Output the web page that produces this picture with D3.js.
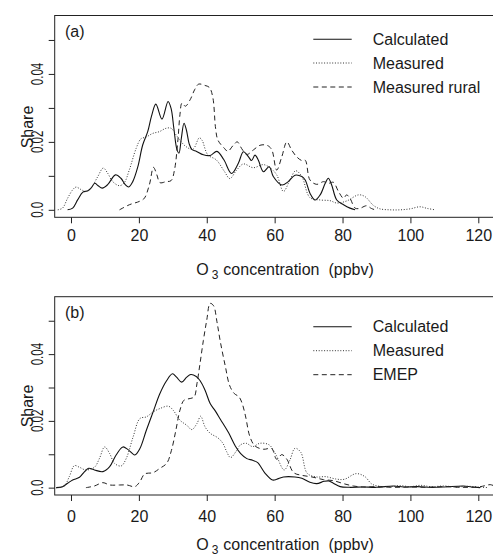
<!DOCTYPE html>
<html><head><meta charset="utf-8">
<script src="https://cdn.jsdelivr.net/npm/d3@7"></script>
<style>
body{margin:0;background:#fff}
svg{display:block}
text{font-family:"Liberation Sans",Arial,Helvetica,sans-serif;fill:#1a1a1a}
</style>
</head><body>
<svg id="chart" width="493" height="556"></svg>
<script>
// ---------- data ----------
const xTicks = [0, 20, 40, 60, 80, 100, 120];
const yTicks = [0, 0.01, 0.02, 0.03, 0.04, 0.05];
const yTickLabels = ["0.0", "", "0.02", "", "0.04", ""];
const xTitleMain = "O";
const xTitleSub = "3";
const xTitleRest = "concentration";
const xTitleUnit = "(ppbv)";
const yTitle = "Share";
const panelLabels = ["(a)", "(b)"];
const legendA = ["Calculated", "Measured", "Measured rural"];
const legendB = ["Calculated", "Measured", "EMEP"];

// panel (a)
const calcA = [[-1,0],[0.5,0.0005],[2,0.003],[3.5,0.0052],[5,0.0056],[6,0.0065],[7,0.0078],[8,0.0071],[9.2,0.0064],[10.8,0.0074],[13.1,0.0103],[14.7,0.0093],[16,0.0074],[17,0.0067],[18.2,0.0083],[19.7,0.0127],[21.1,0.019],[22.6,0.023],[23.7,0.0275],[25,0.0311],[26.8,0.0267],[28.6,0.0319],[29.5,0.0298],[30.3,0.024],[31.2,0.0178],[31.8,0.0167],[32.5,0.021],[33.3,0.0255],[34,0.0235],[34.8,0.0195],[35.6,0.0178],[37,0.0172],[39,0.0162],[41,0.016],[43,0.0172],[45,0.0148],[47.3,0.0107],[49.3,0.0137],[50.8,0.0171],[52.3,0.0156],[53.2,0.0145],[54.2,0.0161],[55.2,0.0146],[56.7,0.0112],[58.4,0.0127],[59.6,0.0098],[62.1,0.0073],[64,0.0083],[66,0.0102],[68,0.0098],[69,0.0088],[70.4,0.0049],[71.9,0.0029],[73.4,0.0044],[74.9,0.0078],[75.8,0.0093],[76.8,0.0073],[78.3,0.0029],[80.3,0.0015],[82.2,0.0005],[83.7,0]];
const measA = [[-3.9,0],[-2.5,0.0005],[-1,0.0034],[0.5,0.0059],[1.5,0.0067],[2.9,0.006],[4.4,0.0054],[5.9,0.0064],[7.9,0.0098],[9.5,0.0123],[10.8,0.0108],[12.3,0.0083],[14.3,0.0071],[15.7,0.008],[17.2,0.0118],[19.2,0.0181],[20.6,0.0209],[22.1,0.0214],[24.1,0.0225],[26,0.023],[28,0.024],[29.5,0.024],[31,0.022],[32.4,0.0201],[33.9,0.0186],[35.9,0.0178],[37.8,0.0212],[38.6,0.0205],[40.3,0.0162],[42.8,0.0147],[45.2,0.0113],[46.8,0.0092],[48.8,0.0117],[50.8,0.0135],[53.7,0.0124],[56.7,0.0133],[58.6,0.0124],[60.6,0.0103],[62.6,0.0054],[64.5,0.0088],[66.2,0.0115],[68,0.0098],[70.4,0.0036],[73.4,0.0029],[76.3,0.0027],[78.3,0.002],[81.2,0.0026],[84.7,0.0044],[86.6,0.0039],[89.1,0.0013],[91,0.0003],[94,0],[97,0],[100,0.0003],[102.8,0.0009],[105,0.0004],[107.3,0]];
const ruralA = [[14.3,0],[17.2,0.0015],[20.2,0.0025],[21.6,0.0034],[23.1,0.0074],[24.3,0.0125],[25.3,0.0103],[26.2,0.008],[28,0.0083],[29.5,0.0086],[30.5,0.0118],[31.5,0.0206],[32.1,0.028],[32.7,0.0314],[33.7,0.0305],[35.1,0.0324],[36.5,0.0355],[37.6,0.037],[39.5,0.0366],[40.8,0.036],[41.8,0.033],[42.6,0.024],[43.3,0.0205],[45.2,0.0181],[46.2,0.0172],[47.8,0.019],[49,0.02],[50.3,0.018],[51.8,0.0163],[53.7,0.0176],[55.7,0.019],[57.7,0.019],[59.1,0.0178],[60.6,0.0117],[62.1,0.0156],[63.6,0.02],[65,0.0176],[66.5,0.0156],[68,0.0145],[69,0.0146],[70.4,0.0088],[72.4,0.0075],[74.4,0.0083],[75.8,0.0078],[77.3,0.0081],[78.8,0.0054],[80.3,0.0034],[81.2,0.0044],[82.2,0.0034],[83.7,0.0005],[85,0.0004],[87.1,0.0012],[88.5,0.0004],[89.6,0]];

// panel (b)
const calcB = [[-4.4,0],[-2.5,0.0003],[-1,0.0013],[0.5,0.0023],[2.5,0.0031],[4,0.0048],[5.2,0.0058],[6.9,0.0053],[9.4,0.0048],[11.4,0.0063],[13.3,0.0098],[15.3,0.0122],[16.8,0.0114],[18.8,0.0098],[20.3,0.0117],[22.2,0.0172],[24.2,0.0227],[26.2,0.0282],[28.2,0.0321],[29.9,0.0341],[31.1,0.0331],[32.6,0.0316],[34.1,0.0331],[35.3,0.0339],[36.9,0.0333],[38,0.0321],[39.5,0.0292],[41,0.0252],[42.5,0.023],[44,0.0205],[46.4,0.0165],[48.4,0.0125],[50,0.0102],[51.8,0.0087],[53.5,0.0082],[55,0.0075],[57.2,0.0043],[59.4,0.0023],[60.6,0.0025],[62.6,0.0032],[66,0.0032],[68,0.0028],[70.4,0.0016],[72.4,0.0012],[74.6,0.0019],[76,0.002],[77.3,0.0013],[79.3,0.0003],[82,0.0001],[86,0.0002],[90,0.0001],[95,0.0005],[98,0.0002],[102,0.0003],[106,0.0001],[110,0.0002],[115.6,0.0005],[118,0.0002],[120.5,0]];
const measB = [[-4.4,0],[-2,0.0005],[-0.5,0.0033],[1,0.0066],[2.5,0.0061],[4.4,0.0053],[6.9,0.0061],[8.4,0.0088],[9.9,0.0122],[11.4,0.0102],[12.8,0.0073],[14.8,0.0065],[16.3,0.0088],[18.3,0.0152],[20.3,0.0207],[22.2,0.0212],[24.2,0.0227],[26.2,0.0237],[28.7,0.0244],[30.1,0.0232],[32.1,0.0202],[34.1,0.0187],[35.6,0.0174],[37.1,0.0192],[38.2,0.0214],[39.5,0.0182],[41,0.0163],[43.3,0.0149],[44.8,0.0132],[45.9,0.0107],[47,0.009],[48.6,0.0108],[49.9,0.0128],[51.6,0.0133],[53.5,0.0123],[55.7,0.0133],[58.4,0.0128],[60.4,0.0098],[62.8,0.0053],[64.5,0.0083],[66,0.0118],[67.7,0.0106],[69.6,0.0043],[72.4,0.0032],[75,0.0033],[78,0.0026],[80.5,0.0025],[84,0.0042],[86.6,0.0033],[88.6,0.0011],[91,0.0004],[94,0.0003],[97,0.0006],[100,0.0003],[103,0.0007],[106,0.0003],[110,0.0005],[113,0.0002],[117,0.0004],[120,0.0002],[123,0]];
const emepB = [[4.4,0],[6.9,0.0005],[9.4,0.0015],[11.4,0.0008],[14.3,0.0008],[16.5,0.0008],[18.8,0.0003],[20.3,0.0018],[21.7,0.0041],[24.2,0.0045],[26.2,0.0058],[28.2,0.0073],[29.6,0.0112],[30.9,0.0172],[32.1,0.0232],[33.3,0.0262],[35.1,0.0267],[36.3,0.0272],[37.1,0.0311],[38,0.0371],[39,0.0441],[40,0.0502],[41,0.0552],[42,0.0545],[43,0.0497],[44,0.0437],[45.5,0.0362],[46.7,0.0307],[48.1,0.0282],[49.5,0.0272],[50.5,0.025],[51.4,0.0215],[52.7,0.0153],[54.2,0.0125],[56.7,0.0115],[59.1,0.0117],[60.6,0.0085],[62.1,0.0099],[63.6,0.0085],[65.6,0.0045],[68,0.0037],[71,0.0032],[74.4,0.0024],[77.3,0.0021],[80.3,0.0012],[83.2,0.0005],[86,0.0002],[90,0.0003],[95,0.0001],[100,0.0002],[105,0.0001],[110,0.0003],[115,0.0001],[120,0.0002],[122,0.0006],[123.5,0.0009],[125,0.0004]];

// ---------- layout ----------
const svg = d3.select("#chart");
const FS = 16;
const styles = [
  {dash: null, color: "#111", width: 1.1},
  {dash: "1,1.7", color: "#333", width: 1.0},
  {dash: "5,3.5", color: "#222", width: 1.0}
];
const x = d3.scaleLinear().domain([-4.8, 124.8]).range([54.7, 494.6]);

const panels = [
  {label: panelLabels[0], series: [calcA, measA, ruralA], names: legendA,
   top: 15.5, bottom: 217.3, legendY: [39.3, 63, 87], labelBase: 36.5,
   tickBase: 241.5, titleBase: 275, shareY: 127, id: "a"},
  {label: panelLabels[1], series: [calcB, measB, emepB], names: legendB,
   top: 296.7, bottom: 495, legendY: [326.7, 350.7, 374.7], labelBase: 318,
   tickBase: 521.5, titleBase: 549.5, shareY: 406, id: "b"}
];

panels.forEach(p => {
  const y = d3.scaleLinear().domain([-0.0022, 0.0572]).range([p.bottom, p.top]);
  const g = svg.append("g");
  const clipId = "clip-" + p.id;
  svg.append("clipPath").attr("id", clipId).append("rect")
    .attr("x", x.range()[0]).attr("y", p.top)
    .attr("width", x.range()[1] - x.range()[0]).attr("height", p.bottom - p.top);

  // box
  g.append("rect").attr("x", x.range()[0]).attr("y", p.top)
    .attr("width", x.range()[1] - x.range()[0]).attr("height", p.bottom - p.top)
    .attr("fill", "none").attr("stroke", "#222").attr("stroke-width", 1);

  // x axis
  const pad = p.tickBase - p.bottom - 6 - 0.71 * FS;
  const xa = g.append("g").attr("transform", `translate(0,${p.bottom})`)
    .call(d3.axisBottom(x).tickValues(xTicks).tickSize(6).tickSizeOuter(0).tickPadding(pad).tickFormat(d3.format("d")));
  xa.select(".domain").remove();
  xa.selectAll("line").attr("stroke", "#222");
  xa.selectAll("text").attr("font-size", FS).attr("font-family", null).attr("fill", "#1a1a1a");

  // y axis
  const ya = g.append("g").attr("transform", `translate(${x.range()[0]},0)`)
    .call(d3.axisLeft(y).tickValues(yTicks).tickSize(6).tickSizeOuter(0).tickFormat(""));
  ya.select(".domain").remove();
  ya.selectAll("line").attr("stroke", "#222");
  yTicks.forEach((t, i) => {
    if (!yTickLabels[i]) return;
    g.append("text")
      .attr("transform", `translate(42.7,${y(t)}) rotate(-90) scale(0.72,1)`)
      .attr("text-anchor", "middle").attr("font-size", FS).text(yTickLabels[i]);
  });

  // y title
  g.append("text").attr("transform", `translate(33.3,${p.shareY}) rotate(-90)`)
    .attr("text-anchor", "middle").attr("font-size", FS).text(yTitle);

  // x title
  const tt = g.append("text").attr("x", 285).attr("y", p.titleBase)
    .attr("text-anchor", "middle").attr("font-size", FS);
  tt.append("tspan").text(xTitleMain);
  tt.append("tspan").attr("dx", 3).attr("dy", 4).attr("font-size", 12).text(xTitleSub);
  tt.append("tspan").attr("dx", 5).attr("dy", -4).text(xTitleRest);
  tt.append("tspan").attr("dx", 9).text(xTitleUnit);

  // panel label
  g.append("text").attr("x", 65).attr("y", p.labelBase).attr("font-size", FS).text(p.label);

  // curves
  const line = d3.line().x(d => x(d[0])).y(d => y(d[1])).curve(d3.curveCatmullRom.alpha(0.5));
  const cg = g.append("g").attr("clip-path", `url(#${clipId})`);
  p.series.forEach((s, i) => {
    cg.append("path").datum(s).attr("d", line)
      .attr("fill", "none").attr("stroke", styles[i].color)
      .attr("stroke-width", styles[i].width)
      .attr("stroke-dasharray", styles[i].dash);
  });

  // legend
  p.names.forEach((n, i) => {
    const ly = p.legendY[i];
    g.append("line").attr("x1", 313.3).attr("x2", 351.7).attr("y1", ly).attr("y2", ly)
      .attr("stroke", styles[i].color).attr("stroke-width", styles[i].width)
      .attr("stroke-dasharray", styles[i].dash);
    g.append("text").attr("x", 372.7).attr("y", ly + 5.7).attr("font-size", FS).text(n);
  });
});
</script>
</body></html>
